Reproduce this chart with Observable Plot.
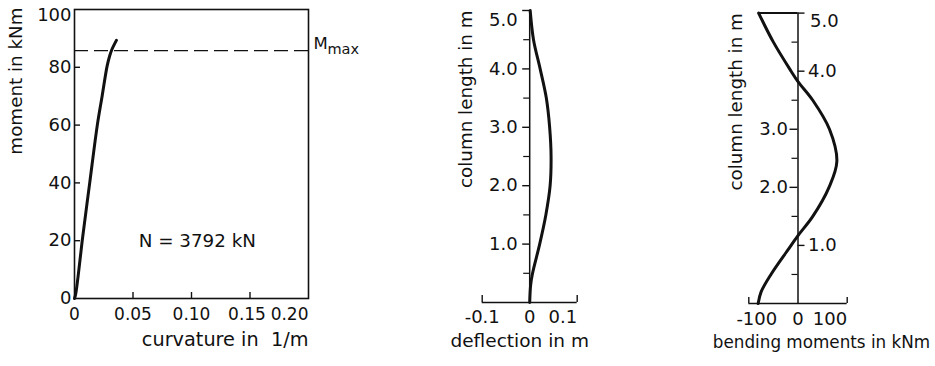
<!DOCTYPE html>
<html><head><meta charset="utf-8">
<script src="https://cdn.jsdelivr.net/npm/d3@7"></script>
<script src="https://cdn.jsdelivr.net/npm/@observablehq/plot@0.6"></script>
<style>
html,body{margin:0;padding:0;background:#fff;}
#wrap{position:relative;width:935px;height:366px;overflow:hidden;background:#fff;}
#wrap svg{position:absolute;top:0;overflow:visible;}
</style></head><body><div id="wrap"></div>
<script>
// ---- Panel 1: moment–curvature diagram ----
const curvature = [0, 0.001, 0.003, 0.0066, 0.013, 0.0195, 0.0236, 0.0279, 0.0301, 0.0318, 0.0358];
const moment    = [0, 1.5, 7.4, 20, 40, 60, 70, 80.5, 84, 86, 89.3];
const mMax = 85.8;
const curvatureTicks = [0, 0.05, 0.10, 0.15, 0.20];
const momentTicks = [0, 20, 40, 60, 80, 100];
const axialForceLabel = "N = 3792 kN";

// ---- Panel 2: deflection along column ----
const deflLength = [0, 0.3, 0.5, 1.0, 1.5, 2.0, 2.5, 3.0, 3.5, 4.0, 4.5, 5.0];
const deflection = [0, 0.002, 0.006, 0.021, 0.034, 0.043, 0.045, 0.042, 0.035, 0.022, 0.008, 0.001];
const deflTicks = [-0.1, 0, 0.1];

// ---- Panel 3: bending moments along column ----
const bmLength  = [0, 0.2, 0.5, 1.0, 1.17, 1.5, 2.0, 2.45, 3.0, 3.5, 3.82, 4.0, 4.5, 5.0];
const bmMoment  = [-81, -75, -55, -14, 0, 30, 63, 79, 64, 30, 0, -14, -50, -80];
const bmTicks = [-100, 0, 100];

const lengthMajor = [1, 2, 3, 4, 5];
const lengthMinor = [0.5, 1.5, 2.5, 3.5, 4.5];
const bmLabelsRight = [1, 4];   // labelled right of the axis
const bmLabelsLeft  = [2, 3];   // labelled left of the axis (curve bulges right)

const ink = "#111";
const font = "DejaVu Sans";
const baseStyle = {fontFamily: font, fontSize: "18px", background: "transparent", overflow: "visible", color: ink};
const f1 = d3.format(".1f");
const fx = d => d === 0 ? "0" : d.toFixed(2);
const fd = d => d === 0 ? "0" : (d < 0 ? "-" : "") + Math.abs(d).toFixed(1);
const fb = d => d === 0 ? "0" : (d < 0 ? "-" : "") + Math.abs(d);

const mk = curvature.map((k, i) => ({k, m: moment[i]}));
const dl = deflLength.map((l, i) => ({l, d: deflection[i]}));
const bl = bmLength.map((l, i) => ({l, m: bmMoment[i]}));

// Panel 1
const p1 = Plot.plot({
  width: 370, height: 366,
  marginLeft: 74, marginRight: 62, marginTop: 9, marginBottom: 68,
  x: {domain: [0, 0.2], axis: null},
  y: {domain: [0, 100], axis: null},
  style: baseStyle,
  marks: [
    Plot.frame({stroke: ink, strokeWidth: 1.6}),
    Plot.ruleY(momentTicks.slice(1, -1), {y: d => d, x1: 0, x2: 0, insetRight: -6, stroke: ink, strokeWidth: 1.4}),
    Plot.ruleX(curvatureTicks.slice(1, -1), {x: d => d, y1: 0, y2: 0, insetTop: -6, stroke: ink, strokeWidth: 1.4}),
    Plot.text(momentTicks.slice(0, -1), {x: 0, y: d => d, text: d => String(d), textAnchor: "end", dx: -3}),
    Plot.text(momentTicks.slice(-1), {x: 0, y: d => d, text: d => String(d), textAnchor: "end", lineAnchor: "top", dx: -3, dy: -1}),
    Plot.text(curvatureTicks.slice(0, 3), {x: d => d, y: 0, text: fx, lineAnchor: "top", dy: 9, fontSize: 17}),
    Plot.text(curvatureTicks.slice(3, 4), {x: d => d, y: 0, text: fx, lineAnchor: "top", dx: -3, dy: 9, fontSize: 17}),
    Plot.text(curvatureTicks.slice(-1), {x: d => d, y: 0, text: fx, lineAnchor: "top", textAnchor: "end", dy: 9, fontSize: 17}),
    Plot.ruleY([mMax], {y: d => d, stroke: ink, strokeWidth: 1.3, strokeDasharray: "14,6"}),
    Plot.line(mk, {x: "k", y: "m", stroke: ink, strokeWidth: 3, curve: "catmull-rom"}),
    Plot.text([mMax], {x: 0.2, y: d => d, text: () => "M", textAnchor: "start", lineAnchor: "bottom", dx: 5, dy: -2, fontSize: 16.5}),
    Plot.text([mMax], {x: 0.2, y: d => d, text: () => "max", textAnchor: "start", lineAnchor: "bottom", dx: 19, dy: 3, fontSize: 14.5}),
    Plot.text([axialForceLabel], {x: 0.105, y: 20, text: d => d, fontSize: 18.3}),
    Plot.text(["moment in kNm"], {frameAnchor: "top-left", text: d => d, rotate: -90, textAnchor: "end", lineAnchor: "bottom", dx: -53, dy: -2, fontSize: 18.3}),
    Plot.text(["curvature in\u00a0\u00a01/m"], {frameAnchor: "bottom-right", text: d => d, textAnchor: "end", lineAnchor: "bottom", dy: 47, fontSize: 19.3})
  ]
});
p1.style.left = "0px";

// Panel 2
const p2 = Plot.plot({
  width: 170, height: 366,
  marginLeft: 51.7, marginRight: 23.3, marginTop: 10, marginBottom: 64,
  x: {domain: [-0.1, 0.1], axis: null},
  y: {domain: [0, 5], axis: null},
  style: baseStyle,
  marks: [
    Plot.ruleX([0], {x: d => d, y1: 0, y2: 5, stroke: ink, strokeWidth: 1.5}),
    Plot.ruleY([0], {y: d => d, x1: -0.1, x2: 0.1, stroke: ink, strokeWidth: 1.5}),
    Plot.ruleX(deflTicks.filter(d => d !== 0), {x: d => d, y1: 0, y2: 0, insetTop: -7, stroke: ink, strokeWidth: 1.4}),
    Plot.ruleY(lengthMajor, {y: d => d, x1: 0, x2: 0, insetLeft: -7, stroke: ink, strokeWidth: 1.4}),
    Plot.ruleY(lengthMinor, {y: d => d, x1: 0, x2: 0, insetLeft: -6, stroke: ink, strokeWidth: 1.2}),
    Plot.text(lengthMajor.slice(0, -1), {x: 0, y: d => d, text: f1, textAnchor: "end", dx: -12}),
    Plot.text(lengthMajor.slice(-1), {x: 0, y: d => d, text: f1, textAnchor: "end", lineAnchor: "top", dx: -12, dy: 3}),
    Plot.text(deflTicks.slice(0, -1), {x: d => d, y: 0, text: fd, lineAnchor: "top", dy: 8}),
    Plot.text(deflTicks.slice(-1), {x: d => d, y: 0, text: fd, lineAnchor: "top", textAnchor: "end", dy: 8}),
    Plot.line(dl, {x: "d", y: "l", stroke: ink, strokeWidth: 3, curve: "catmull-rom"}),
    Plot.text(["column length in m"], {frameAnchor: "top-left", text: d => d, rotate: -90, textAnchor: "end", lineAnchor: "bottom", dx: -10.7, dy: 0, fontSize: 18.3}),
    Plot.text(["deflection in m"], {frameAnchor: "bottom", text: d => d, lineAnchor: "bottom", dx: -10, dy: 44, fontSize: 18.5})
  ]
});
p2.style.left = "430px";

// Panel 3
const p3 = Plot.plot({
  width: 245, height: 366,
  marginLeft: 58.3, marginRight: 88.3, marginTop: 12.6, marginBottom: 63,
  x: {domain: [-100, 100], axis: null},
  y: {domain: [0, 5], axis: null},
  style: baseStyle,
  marks: [
    Plot.ruleX([0], {x: d => d, y1: 0, y2: 5, stroke: ink, strokeWidth: 1.5}),
    Plot.ruleY([0], {y: d => d, x1: -100, x2: 100, stroke: ink, strokeWidth: 1.5}),
    Plot.ruleX(bmTicks.filter(d => d !== 0), {x: d => d, y1: 0, y2: 0, insetTop: -6, stroke: ink, strokeWidth: 1.4}),
    Plot.ruleY([...bmLabelsRight, 5], {y: d => d, x1: 0, x2: 0, insetRight: -7, stroke: ink, strokeWidth: 1.4}),
    Plot.ruleY(bmLabelsLeft, {y: d => d, x1: 0, x2: 0, insetLeft: -8, stroke: ink, strokeWidth: 1.4}),
    Plot.ruleY(lengthMinor, {y: d => d, x1: 0, x2: 0, insetLeft: -6, stroke: ink, strokeWidth: 1.2}),
    Plot.text(bmLabelsRight, {x: 0, y: d => d, text: f1, textAnchor: "start", dx: 10}),
    Plot.text(bmLabelsLeft, {x: 0, y: d => d, text: f1, textAnchor: "end", dx: -10}),
    Plot.text([5], {x: 0, y: d => d, text: f1, textAnchor: "start", lineAnchor: "top", dx: 12, dy: 1}),
    Plot.text(bmTicks.slice(0, 1), {x: d => d, y: 0, text: fb, lineAnchor: "top", dx: 8, dy: 9}),
    Plot.text(bmTicks.slice(1, 2), {x: d => d, y: 0, text: fb, lineAnchor: "top", dy: 9}),
    Plot.text(bmTicks.slice(2), {x: d => d, y: 0, text: fb, lineAnchor: "top", textAnchor: "end", dy: 9}),
    Plot.ruleY([bl[bl.length - 1]], {y: "l", x1: "m", x2: 0, stroke: ink, strokeWidth: 2}),
    Plot.line(bl, {x: "m", y: "l", stroke: ink, strokeWidth: 3, curve: "catmull-rom"}),
    Plot.text(["column length in m"], {frameAnchor: "top-left", text: d => d, rotate: -90, textAnchor: "end", lineAnchor: "bottom", dx: -7.3, dy: 0, fontSize: 18.3}),
    Plot.text(["bending moments in kNm"], {frameAnchor: "bottom", text: d => d, lineAnchor: "bottom", dx: 23.5, dy: 44, fontSize: 16.8})
  ]
});
p3.style.left = "690px";

const wrap = document.getElementById("wrap");
wrap.append(p1, p2, p3);
</script></body></html>
